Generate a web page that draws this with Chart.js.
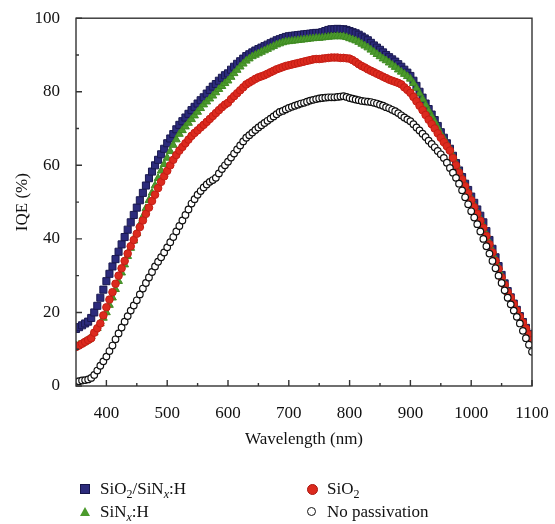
<!DOCTYPE html>
<html>
<head>
<meta charset="utf-8">
<script src="https://cdn.jsdelivr.net/npm/chart.js@4.4.1/dist/chart.umd.min.js"></script>
<style>
  html, body { margin: 0; padding: 0; background: #fff; }
  .wrap { position: relative; width: 555px; height: 524px; }
  canvas { position: absolute; left: 0; top: 0; }
  .legend { position: absolute; font-family: "Liberation Serif", "DejaVu Serif", serif; font-size: 17px; color: #111; }
  .legend .item { position: absolute; white-space: nowrap; line-height: 20px; }
  .legend .mark { position: absolute; }
  .legend sub { font-size: 12px; vertical-align: -4px; line-height: 0; }
</style>
</head>
<body>
<div class="wrap">
  <canvas id="iqeChart" width="555" height="524"></canvas>
  <div class="legend">
    <div class="item" style="left:100px;top:479px;">SiO<sub>2</sub>/SiN<sub><i>x</i></sub>:H</div>
    <div class="item" style="left:100px;top:502px;">SiN<sub><i>x</i></sub>:H</div>
    <div class="item" style="left:327px;top:479px;">SiO<sub>2</sub></div>
    <div class="item" style="left:327px;top:502px;">No passivation</div>
    <div class="mark" style="left:80px;top:484px;width:8px;height:8px;background:#2c2b7c;border:1px solid #16164a;"></div>
    <div class="mark" style="left:80px;top:507px;width:0;height:0;border-left:5px solid transparent;border-right:5px solid transparent;border-bottom:9px solid #4b9a2c;"></div>
    <div class="mark" style="left:307px;top:484px;width:9px;height:9px;border-radius:50%;background:#dc2a1e;border:1px solid #a8150f;"></div>
    <div class="mark" style="left:307px;top:507px;width:7px;height:7px;border-radius:50%;background:#fff;border:1.3px solid #111;"></div>
  </div>
</div>
<script>
// wavelength (nm), one point every 5 nm
const wavelengths = [
  350, 355, 360, 365, 370, 375, 380, 385, 390, 395,
  400, 405, 410, 415, 420, 425, 430, 435, 440, 445,
  450, 455, 460, 465, 470, 475, 480, 485, 490, 495,
  500, 505, 510, 515, 520, 525, 530, 535, 540, 545,
  550, 555, 560, 565, 570, 575, 580, 585, 590, 595,
  600, 605, 610, 615, 620, 625, 630, 635, 640, 645,
  650, 655, 660, 665, 670, 675, 680, 685, 690, 695,
  700, 705, 710, 715, 720, 725, 730, 735, 740, 745,
  750, 755, 760, 765, 770, 775, 780, 785, 790, 795,
  800, 805, 810, 815, 820, 825, 830, 835, 840, 845,
  850, 855, 860, 865, 870, 875, 880, 885, 890, 895,
  900, 905, 910, 915, 920, 925, 930, 935, 940, 945,
  950, 955, 960, 965, 970, 975, 980, 985, 990, 995,
  1000, 1005, 1010, 1015, 1020, 1025, 1030, 1035, 1040, 1045,
  1050, 1055, 1060, 1065, 1070, 1075, 1080, 1085, 1090, 1095,
  1100
];

// IQE (%) per sample
const iqeSiO2SiNx = [
  15.5, 16.0, 16.5, 17.0, 17.5, 18.5, 20.0, 21.8, 24.0, 26.2,
  28.5, 30.5, 32.5, 34.5, 36.5, 38.5, 40.5, 42.5, 44.5, 46.5,
  48.5, 50.5, 52.5, 54.5, 56.5, 58.3, 60.0, 61.5, 63.0, 64.5,
  66.0, 67.3, 68.5, 69.8, 71.0, 72.0, 73.0, 74.0, 75.0, 75.9,
  76.8, 77.7, 78.5, 79.5, 80.5, 81.4, 82.1, 83.0, 83.8, 84.5,
  85.0, 86.0, 86.8, 87.6, 88.3, 89.0, 89.7, 90.2, 90.7, 91.2,
  91.6, 92.0, 92.4, 92.8, 93.2, 93.6, 94.0, 94.3, 94.6, 94.9,
  95.1, 95.2, 95.3, 95.4, 95.5, 95.6, 95.7, 95.8, 95.9, 96.0,
  96.0, 96.2, 96.5, 96.8, 97.0, 97.0, 97.1, 97.0, 97.0, 96.8,
  96.5, 96.2, 95.9, 95.5, 95.0, 94.5, 94.0, 93.3, 92.6, 92.0,
  91.4, 90.7, 90.0, 89.4, 88.8, 88.2, 87.5, 86.8, 86.0, 85.2,
  84.3, 83.0, 81.6, 80.0, 78.4, 76.8, 75.3, 73.8, 72.3, 70.7,
  69.0, 67.5, 66.0, 64.5, 62.6, 60.6, 58.6, 56.8, 55.0, 53.3,
  51.5, 49.8, 48.0, 46.3, 44.5, 42.1, 39.7, 37.3, 35.0, 32.6,
  30.2, 27.9, 25.8, 24.1, 22.4, 20.7, 19.0, 17.4, 15.8, 14.2,
  12.6
];

const iqeSiNx = [
  11.0, 11.2, 11.5, 12.0, 12.5, 13.4, 14.5, 15.7, 17.0, 18.5,
  20.0, 22.0, 24.0, 26.3, 28.5, 30.8, 33.0, 35.3, 37.5, 39.5,
  41.5, 43.8, 46.0, 48.3, 50.5, 52.5, 54.5, 56.5, 58.5, 60.3,
  62.0, 63.8, 65.5, 67.0, 68.5, 69.5, 70.5, 71.5, 72.5, 73.5,
  74.5, 75.5, 76.5, 77.3, 78.1, 78.9, 79.8, 80.7, 81.5, 82.3,
  83.0, 84.0, 85.0, 85.9, 86.8, 87.6, 88.4, 89.0, 89.6, 90.0,
  90.4, 90.8, 91.2, 91.6, 92.0, 92.4, 92.8, 93.1, 93.4, 93.6,
  93.7, 93.8, 93.9, 94.0, 94.1, 94.2, 94.3, 94.4, 94.5, 94.6,
  94.6, 94.7, 94.8, 94.9, 95.0, 95.0, 95.1, 95.0, 95.0, 94.8,
  94.5, 94.2, 93.9, 93.5, 93.0, 92.5, 92.0, 91.4, 90.8, 90.2,
  89.6, 89.0, 88.5, 87.9, 87.3, 86.7, 86.0, 85.4, 84.8, 84.2,
  83.5, 82.3, 81.0, 79.5, 78.0, 76.4, 74.8, 73.3, 71.8, 70.2,
  68.5, 67.2, 65.8, 64.5, 62.5, 60.5, 58.5, 56.6, 54.7, 52.8,
  51.0, 49.1, 47.2, 45.4, 43.5, 41.2, 39.0, 36.8, 34.5, 32.3,
  30.0, 27.8, 25.6, 23.9, 22.2, 20.5, 18.8, 17.2, 15.6, 14.0,
  12.5
];

const iqeSiO2 = [
  10.6, 11.0, 11.5, 12.0, 12.5, 13.0, 14.5, 15.7, 17.0, 19.2,
  21.4, 23.5, 25.5, 27.8, 30.0, 32.0, 34.0, 36.0, 38.0, 39.7,
  41.4, 43.2, 45.0, 46.8, 48.5, 50.3, 52.0, 53.8, 55.5, 57.0,
  58.5, 60.0, 61.5, 62.8, 64.0, 65.0, 66.0, 67.0, 68.0, 68.8,
  69.5, 70.3, 71.0, 71.8, 72.6, 73.4, 74.2, 75.0, 75.8, 76.5,
  77.0, 78.0, 78.8, 79.6, 80.4, 81.2, 82.0, 82.5, 83.0, 83.5,
  83.9, 84.2, 84.5, 84.9, 85.3, 85.7, 86.1, 86.4, 86.7, 87.0,
  87.2, 87.4, 87.6, 87.8, 88.0, 88.2, 88.4, 88.6, 88.8, 88.9,
  88.9, 89.0, 89.1, 89.2, 89.3, 89.3, 89.3, 89.2, 89.2, 89.1,
  89.0, 88.6, 88.1, 87.5, 87.0, 86.6, 86.1, 85.7, 85.3, 84.9,
  84.5, 84.1, 83.7, 83.3, 83.0, 82.7, 82.4, 82.0, 81.2, 80.5,
  79.7, 78.6, 77.4, 76.2, 75.0, 73.7, 72.4, 71.2, 70.0, 68.7,
  67.5, 66.3, 65.2, 64.0, 62.0, 60.0, 58.0, 56.2, 54.3, 52.4,
  50.5, 48.6, 46.8, 44.9, 43.0, 40.8, 38.5, 36.3, 34.0, 31.8,
  29.5, 27.5, 25.5, 24.0, 22.3, 20.5, 18.8, 17.2, 15.6, 14.0,
  12.5
];

const iqeNoPassivation = [
  1.2, 1.3, 1.5, 1.6, 1.8, 2.2, 3.0, 4.2, 5.5, 6.7,
  8.0, 9.5, 11.0, 12.7, 14.3, 15.9, 17.5, 19.0, 20.5, 21.9,
  23.3, 24.9, 26.5, 28.0, 29.5, 31.0, 32.5, 33.8, 35.0, 36.3,
  37.7, 39.1, 40.5, 42.0, 43.5, 45.0, 46.5, 48.0, 49.6, 50.8,
  52.0, 53.0, 54.0, 54.8, 55.5, 56.0, 56.6, 57.8, 59.0, 60.0,
  61.0, 62.1, 63.2, 64.3, 65.4, 66.5, 67.5, 68.2, 68.9, 69.6,
  70.3, 70.9, 71.5, 72.1, 72.7, 73.3, 73.9, 74.5, 74.8, 75.2,
  75.6, 75.9, 76.2, 76.5, 76.8, 77.0, 77.3, 77.6, 77.8, 78.0,
  78.2, 78.3, 78.4, 78.5, 78.5, 78.5, 78.6, 78.7, 78.8, 78.6,
  78.3, 78.1, 77.9, 77.7, 77.5, 77.4, 77.3, 77.2, 77.0, 76.8,
  76.5, 76.2, 75.8, 75.5, 75.1, 74.7, 74.2, 73.6, 73.0, 72.5,
  72.0, 71.2, 70.3, 69.5, 68.6, 67.7, 66.7, 65.8, 64.9, 63.9,
  63.0, 62.0, 60.7, 59.3, 58.0, 56.6, 55.0, 53.2, 51.3, 49.4,
  47.5, 45.8, 44.0, 42.0, 40.0, 38.0, 36.0, 34.0, 32.0, 30.0,
  28.0, 26.0, 24.0, 22.2, 20.5, 18.8, 17.0, 15.0, 13.0, 11.2,
  9.3
];

const xTicks = [400, 500, 600, 700, 800, 900, 1000, 1100];
const xMinorTicks = [450, 550, 650, 750, 850, 950, 1050];
const yTicks = [0, 20, 40, 60, 80, 100];
const yMinorTicks = [10, 30, 50, 70, 90];

const serif = '"Liberation Serif", "DejaVu Serif", serif';

function toPoints(values) {
  return wavelengths.map((w, i) => ({ x: w, y: values[i] }));
}

// box around the plot and inward tick marks
const frameTicks = {
  id: 'frameTicks',
  afterDatasetsDraw(chart) {
    const { ctx, chartArea: a, scales: { x, y } } = chart;
    ctx.save();
    ctx.strokeStyle = '#333';
    ctx.lineWidth = 1.4;
    ctx.strokeRect(a.left, a.top, a.right - a.left, a.bottom - a.top);
    ctx.beginPath();
    xTicks.forEach(v => { const p = x.getPixelForValue(v); ctx.moveTo(p, a.bottom); ctx.lineTo(p, a.bottom - 6); });
    xMinorTicks.forEach(v => { const p = x.getPixelForValue(v); ctx.moveTo(p, a.bottom); ctx.lineTo(p, a.bottom - 3); });
    yTicks.forEach(v => { const p = y.getPixelForValue(v); ctx.moveTo(a.left, p); ctx.lineTo(a.left + 6, p); });
    yMinorTicks.forEach(v => { const p = y.getPixelForValue(v); ctx.moveTo(a.left, p); ctx.lineTo(a.left + 3, p); });
    ctx.stroke();
    ctx.restore();
  }
};

new Chart(document.getElementById('iqeChart'), {
  type: 'scatter',
  data: {
    datasets: [
      {
        label: 'SiO2/SiNx:H', data: toPoints(iqeSiO2SiNx), order: 3,
        pointStyle: 'rect', pointRadius: 5, pointBackgroundColor: '#2c2b7c', pointBorderColor: '#1a1950', pointBorderWidth: 1
      },
      {
        label: 'SiNx:H', data: toPoints(iqeSiNx), order: 2,
        pointStyle: 'triangle', pointRadius: 4.5, pointBackgroundColor: '#4b9a2c', pointBorderColor: '#3f8a22', pointBorderWidth: 1
      },
      {
        label: 'SiO2', data: toPoints(iqeSiO2), order: 1,
        pointStyle: 'circle', pointRadius: 3.8, pointBackgroundColor: '#dc2a1e', pointBorderColor: '#c41d14', pointBorderWidth: 1
      },
      {
        label: 'No passivation', data: toPoints(iqeNoPassivation), order: 0,
        pointStyle: 'circle', pointRadius: 3.3, pointBackgroundColor: '#ffffff', pointBorderColor: '#111111', pointBorderWidth: 1.2
      }
    ]
  },
  options: {
    responsive: false,
    animation: false,
    layout: { padding: { left: 0, top: 17, right: 23, bottom: 0 } },
    plugins: { legend: { display: false }, tooltip: { enabled: false } },
    scales: {
      x: {
        type: 'linear', min: 350, max: 1100,
        afterBuildTicks: s => { s.ticks = xTicks.map(v => ({ value: v })); },
        afterFit: s => { s.height = 138; s.paddingRight = 0; s.paddingLeft = 0; },
        grid: { display: false },
        border: { display: false },
        ticks: { color: '#111', padding: 9, maxRotation: 0, callback: v => String(v), font: { family: serif, size: 17 } },
        title: { display: true, text: 'Wavelength (nm)', color: '#111', padding: { bottom: 74 }, font: { family: serif, size: 17 } }
      },
      y: {
        min: 0, max: 100,
        afterBuildTicks: s => { s.ticks = yTicks.map(v => ({ value: v })); },
        afterFit: s => { s.width = 76; },
        grid: { display: false },
        border: { display: false },
        ticks: { color: '#111', padding: 8, callback: v => String(v), font: { family: serif, size: 17 } },
        title: { display: true, text: 'IQE (%)', color: '#111', padding: { top: 12 }, font: { family: serif, size: 17 } }
      }
    }
  },
  plugins: [frameTicks]
});
</script>
</body>
</html>
